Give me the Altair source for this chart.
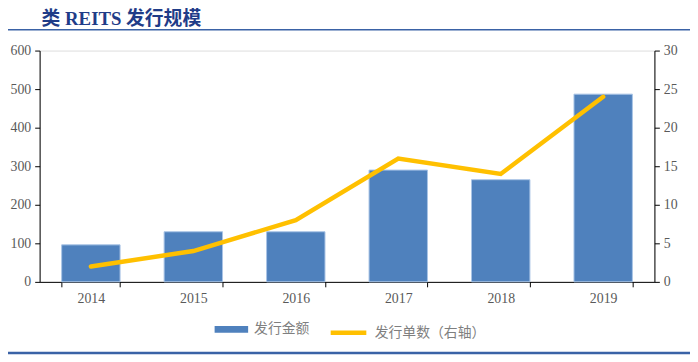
import altair as alt
import pandas as pd

years = ["2014", "2015", "2016", "2017", "2018", "2019"]
amount = [96, 130, 130, 290, 265, 487]
count = [2, 4, 8, 16, 14, 24]
series_bar = "发行金额"
series_line = "发行单数（右轴）"
title_text = "类  REITS 发行规模"

df = pd.DataFrame({"year": years, "amount": amount, "count": count})

W, H = 622, 234
serif = "Liberation Serif"
cjk = "Noto Sans CJK SC"
gray = "#595959"

xenc = alt.X("year:N", sort=years, title=None,
             scale=alt.Scale(paddingInner=0.43, paddingOuter=0.215),
             axis=alt.Axis(labelAngle=0, labelFont=serif, labelFontSize=14, labelColor=gray,
                           domainColor="#000", tickColor="#000", tickBand="extent", tickSize=5,
                           labelPadding=5, grid=False))

bars = alt.Chart(df).mark_bar(stroke="#A9C4E6", strokeWidth=1).encode(
    x=xenc,
    y=alt.Y("amount:Q", title=None,
            scale=alt.Scale(domain=[0, 600]),
            axis=alt.Axis(values=[0, 100, 200, 300, 400, 500, 600], labelFont=serif, labelFontSize=14,
                          labelColor=gray, domainColor="#000", tickColor="#000", tickSize=5,
                          grid=False, labelPadding=4)),
    fill=alt.Fill("s:N", scale=alt.Scale(domain=[series_bar], range=["#4F81BD"]),
                  legend=alt.Legend(title=None, orient="none", legendX=177, legendY=265,
                                    symbolType="M-1,-0.2L1,-0.2L1,0.2L-1,0.2Z", symbolSize=1150,
                                    symbolStrokeWidth=0, labelFont=cjk, labelFontSize=14,
                                    labelColor="#7F7F7F", labelOffset=6)),
).transform_calculate(s=f"'{series_bar}'")

line = alt.Chart(df).mark_line(color="#FFC000", strokeWidth=4.5, strokeCap="round").encode(
    x=alt.X("year:N", sort=years),
    y=alt.Y("count:Q", title=None,
            scale=alt.Scale(domain=[0, 30]),
            axis=alt.Axis(orient="right", values=[0, 5, 10, 15, 20, 25, 30], labelFont=serif,
                          labelFontSize=14, labelColor=gray, domainColor="#000", tickColor="#000",
                          tickSize=5, grid=False, labelPadding=4)),
    stroke=alt.Stroke("s:N", scale=alt.Scale(domain=[series_line], range=["#FFC000"]),
                      legend=alt.Legend(title=None, orient="none", legendX=292, legendY=265,
                                        symbolType="stroke", symbolSize=1300, symbolStrokeWidth=4.5,
                                        labelFont=cjk, labelFontSize=14, labelColor="#7F7F7F",
                                        labelOffset=6)),
).transform_calculate(s=f"'{series_line}'")

deco = pd.DataFrame({"t": [title_text]})
title = alt.Chart(deco).mark_text(align="left", baseline="alphabetic",
                                  font="Liberation Serif, Noto Sans CJK SC", fontSize=19,
                                  fontWeight="bold", color="#1F3C88").encode(
    x=alt.value(2), y=alt.value(-26), text="t:N")
top_rule = alt.Chart(deco).mark_rule(color="#3A62A6", strokeWidth=1.5).encode(
    x=alt.value(-40), x2=alt.value(660), y=alt.value(-21))
bot_rule = alt.Chart(deco).mark_rule(color="#3A62A6", strokeWidth=2.5).encode(
    x=alt.value(-40), x2=alt.value(660), y=alt.value(306))

chart = alt.layer(bars, line, title, top_rule, bot_rule).resolve_scale(
    y="independent", fill="independent", stroke="independent"
).properties(
    width=W, height=H,
    autosize=alt.AutoSizeParams(type="none"),
    padding={"left": 32, "top": 41, "right": 36, "bottom": 80},
).configure_view(stroke=None).configure(background="white")

chart.save("out.html", embed_options={"renderer": "svg", "actions": False})
